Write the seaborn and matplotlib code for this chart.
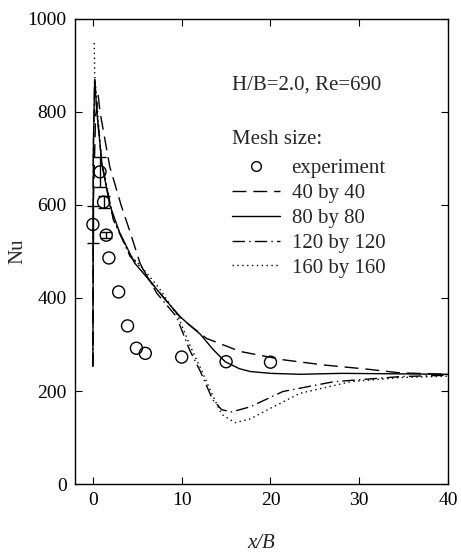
import matplotlib
matplotlib.use("Agg")
import matplotlib.pyplot as plt
import seaborn as sns
import pandas as pd
from matplotlib.lines import Line2D

# ---- data ----
exp_x = [0, 0.8, 1.2, 1.5, 1.8, 2.9, 3.9, 4.9, 5.9, 10, 15, 20]
exp_y = [558, 671, 606, 535, 486, 413, 340, 292, 281, 273, 263, 262]
exp_err = [39, 33, 13, 6, 0, 0, 0, 0, 0, 0, 0, 0]

x40 = [0, 0.05, 0.3, 0.6, 0.8, 1.9, 3.2, 4.2, 5.3, 6.05, 8.0, 10.0, 12.8, 16.6, 21.5, 26.0, 30.9, 34.6, 40]
y40 = [253, 600, 790, 835, 800, 682, 598, 541, 475, 446, 400, 355, 313, 285, 267, 256, 247, 239, 236]

x80 = [0, 0.05, 0.2, 0.45, 1.0, 1.9, 3.0, 4.7, 6.0, 7.0, 8.0, 9.8, 11.0, 12.1, 13.5, 14.9, 16.5, 17.7, 20.0, 23.3, 28, 34, 40]
y80 = [253, 720, 869, 800, 690, 600, 541, 475, 446, 423, 400, 360, 340, 322, 290, 263, 248, 242, 238, 236, 238, 237, 236]

x120 = [0, 0.05, 0.2, 0.5, 1.0, 2.3, 4.2, 5.7, 7.2, 9.4, 10.9, 12.1, 13.5, 14.5, 15.6, 17.7, 21.4, 27.1, 34.6, 40]
y120 = [253, 720, 872, 790, 690, 568, 489, 460, 410, 360, 288, 242, 181, 160, 155, 166, 199, 220, 231, 234]

x160 = [0.15, 0.2, 0.3, 1.0, 2.3, 4.2, 5.7, 7.5, 9.6, 11.0, 12.1, 13.5, 14.5, 16.0, 17.7, 19.6, 23.3, 29.0, 34.6, 40]
y160 = [948, 880, 855, 690, 570, 492, 462, 420, 360, 295, 250, 190, 150, 132, 140, 159, 195, 220, 229, 232]

labels = ["experiment", "40 by 40", "80 by 80", "120 by 120", "160 by 160"]
x_ticks = [0, 10, 20, 30, 40]
y_ticks = [0, 200, 400, 600, 800, 1000]

sns.set_theme(style="ticks")
plt.rcParams["font.family"] = ["Liberation Serif", "DejaVu Serif"]

fig = plt.figure(figsize=(4.61, 5.52), dpi=100)
ax = fig.add_axes([0.163, 0.123, 0.809, 0.843])

def line(xs, ys, **kw):
    df = pd.DataFrame({"x": xs, "y": ys})
    sns.lineplot(data=df, x="x", y="y", sort=False, estimator=None, ax=ax,
                 color="black", linewidth=1.0, **kw)

line(x40, y40, dashes=(10, 5))
line(x80, y80)
line(x120, y120, dashes=(9, 3, 1, 3))
line(x160, y160, dashes=(1, 2.5))

err_pts = [(x, y, e) for x, y, e in zip(exp_x, exp_y, exp_err) if e > 0]
ax.errorbar([p[0] for p in err_pts], [p[1] for p in err_pts],
            yerr=[p[2] for p in err_pts], fmt="none", ecolor="black",
            elinewidth=1.0, capsize=4, capthick=1.0)
edf = pd.DataFrame({"x": exp_x, "y": exp_y})
sns.scatterplot(data=edf, x="x", y="y", ax=ax, marker="o", s=75,
                facecolor="none", edgecolor="black", linewidth=1.0, zorder=5)

ax.set_xlim(-2, 40)
ax.set_ylim(0, 1000)
ax.set_xticks(x_ticks)
ax.set_yticks(y_ticks)
ax.tick_params(direction="in", length=5, width=0.8, top=True, right=True,
               labelsize=14, colors="black", pad=6)
for sp in ax.spines.values():
    sp.set_linewidth(1.0)
    sp.set_color("black")
    sp.set_visible(True)

ax.set_xlabel("x/B", fontsize=15, fontstyle="italic", labelpad=17.5)
ax.set_ylabel("Nu", fontsize=15, labelpad=0)

ax.text(0.42, 0.858, "H/B=2.0, Re=690", transform=ax.transAxes,
        fontsize=15, va="center", ha="left")
ax.text(0.42, 0.740, "Mesh size:", transform=ax.transAxes,
        fontsize=15, va="center", ha="left")

handles = [
    Line2D([], [], marker="o", linestyle="none", markerfacecolor="none",
           markeredgecolor="black", markersize=7, markeredgewidth=1.0),
    Line2D([], [], color="black", lw=1.0, dashes=(10, 5)),
    Line2D([], [], color="black", lw=1.0),
    Line2D([], [], color="black", lw=1.0, dashes=(9, 3, 1, 3)),
    Line2D([], [], color="black", lw=1.0, dashes=(1, 2.5)),
]
leg = ax.legend(handles, labels, loc="upper left",
                bbox_to_anchor=(0.421, 0.699), frameon=False, fontsize=15,
                handlelength=2.3, handletextpad=0.55,
                labelspacing=0.25, borderaxespad=0, borderpad=0)

fig.savefig("out.png", dpi=100)
